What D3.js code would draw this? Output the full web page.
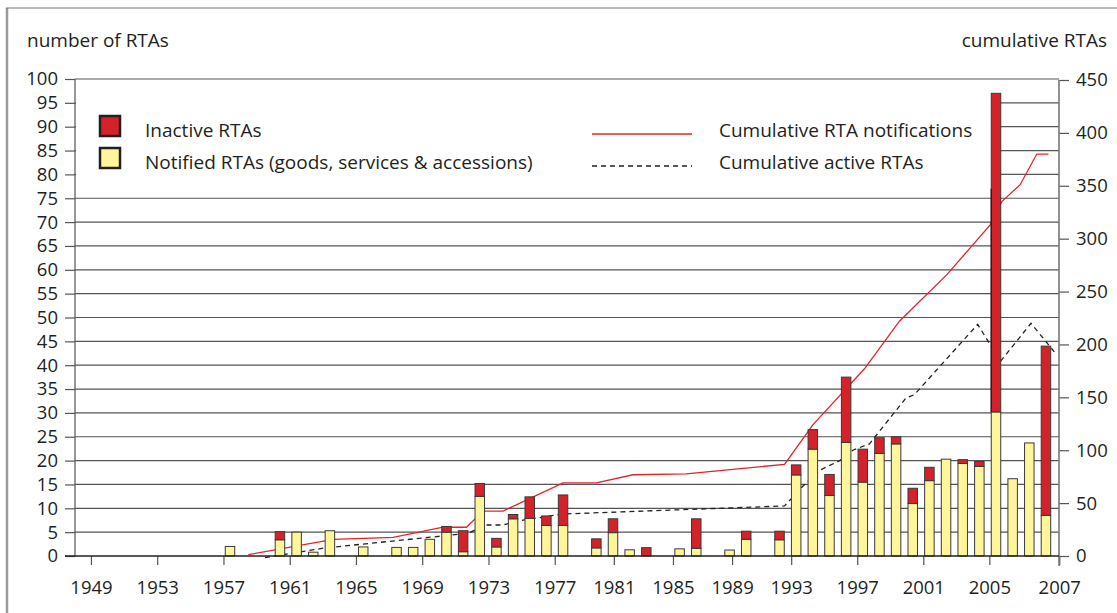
<!DOCTYPE html>
<html>
<head>
<meta charset="utf-8">
<script src="https://cdn.jsdelivr.net/npm/d3@7"></script>
<style>
  body { margin: 0; background: #fff; }
  svg { display: block; font-family: 'Open Sans', sans-serif; }
</style>
</head>
<body>
<svg id="chart" width="1117" height="613"></svg>
<script>
// bar data: year, notified (yellow, bottom) and inactive (red, stacked on top)
const years    = [1958, 1961, 1962, 1963, 1964, 1966, 1968, 1969, 1970, 1971, 1972, 1973, 1974, 1975, 1976, 1977, 1978,
                  1980, 1981, 1982, 1983, 1985, 1986, 1988, 1989, 1991, 1992, 1993, 1994, 1995, 1996, 1997, 1998,
                  1999, 2000, 2001, 2002, 2003, 2004, 2005, 2006, 2007];
const notified = [2.0, 3.4, 5.0, 0.8, 5.3, 1.9, 1.8, 1.8, 3.5, 5.0, 0.9, 12.5, 1.9, 7.8, 7.9, 6.4, 6.4,
                  1.7, 4.9, 1.3, 0, 1.5, 1.6, 1.25, 3.5, 3.4, 17.0, 22.4, 12.7, 23.8, 15.5, 21.5, 23.5,
                  11.0, 15.8, 20.3, 19.4, 18.8, 30.2, 16.2, 23.7, 8.5];
const inactive = [0, 1.7, 0, 0, 0, 0, 0, 0, 0, 1.2, 4.4, 2.7, 1.8, 0.9, 4.5, 2.0, 6.4,
                  1.9, 2.9, 0, 1.75, 0, 6.2, 0, 1.7, 1.8, 2.1, 4.1, 4.4, 13.7, 6.9, 3.3, 1.5,
                  3.2, 2.8, 0, 0.8, 1.0, 66.8, 0, 0, 35.5];

// stray outline inside the 2004 bar
const ghostOutline = { year: 2004, value: 77 };

// cumulative RTA notifications (right axis)
const notifYears  = [1959.1, 1964.2, 1967.8, 1970.8, 1972.2, 1973.2, 1974.4, 1978.0, 1980.0, 1982.2, 1985.4,
                     1991.3, 1993.0, 1996.1, 1998.2, 2001.05, 2003.65, 2004.35, 2005.45, 2006.45, 2007.15];
const notifValues = [1.2, 15.8, 17.7, 27.2, 27.2, 42.5, 42.5, 69.2, 69.2, 76.8, 77.7,
                     86.7, 124, 177, 222, 266, 313, 335, 351, 380, 380];

// cumulative active RTAs (right axis)
const activeYears  = [1960.1, 1963.7, 1972.3, 1973.3, 1974.4, 1975.6, 1978.0, 1991.3, 1992.4, 1993.4, 1994.6,
                      1995.4, 1996.4, 1998.6, 1999.1, 2002.9, 2004.27, 2006.1, 2007.5];
const activeValues = [-1.5, 7.6, 21.4, 29.3, 29.3, 34, 39.7, 47.3, 66, 81, 90,
                      100, 106, 149.5, 152.5, 219, 184, 220, 193];

const leftTicks  = [0, 5, 10, 15, 20, 25, 30, 35, 40, 45, 50, 55, 60, 65, 70, 75, 80, 85, 90, 95, 100];
const rightTicks = [0, 50, 100, 150, 200, 250, 300, 350, 400, 450];
const xTickLabels = [1949, 1953, 1957, 1961, 1965, 1969, 1973, 1977, 1981, 1985, 1989, 1993, 1997, 2001, 2005, 2007];

const svg = d3.select('#chart');
const ink = '#231f20';
const textSize = 19, tickSize = 18.5;

// frame
svg.append('line').attr('x1', 7).attr('x2', 7).attr('y1', 8).attr('y2', 613)
  .attr('stroke', '#9a9a9a').attr('stroke-width', 2.5);
svg.append('line').attr('x1', 6).attr('x2', 1117).attr('y1', 8).attr('y2', 8)
  .attr('stroke', '#777').attr('stroke-width', 1);

// scales
const left = 75, right = 1059, bottom = 556;
const x = d3.scaleLinear().domain([1958, 2004]).range([230, 996]);
const yL = d3.scaleLinear().domain([0, 100]).range([bottom, 79]);
const yR = d3.scaleLinear().domain([0, 450]).range([bottom, 80]);
// printed year labels sit off the bar positions; map them through a polylinear scale
const xLabel = d3.scaleLinear()
  .domain([1949, 1977, 1993, 2005, 2007])
  .range([1949.65, 1977.5, 1991.7, 2003.6, 2007.8].map(x));

const bw = (x(1959) - x(1958)) * 0.57;

// gridlines
svg.append('g').selectAll('line')
  .data(leftTicks.filter(d => d > 0))
  .enter().append('line')
  .attr('x1', left).attr('x2', right)
  .attr('y1', d => yL(d)).attr('y2', d => yL(d))
  .attr('stroke', '#555').attr('stroke-width', 1.2);

// white legend panel hides the upper gridlines up to the tallest bar
svg.append('rect')
  .attr('x', left + 1).attr('y', yL(98))
  .attr('width', x(2004) - bw / 2 - left - 1)
  .attr('height', yL(76.5) - yL(98))
  .attr('fill', '#fff');

// cumulative lines (behind bars)
const line = d3.line().x(d => x(d[0])).y(d => yR(d[1]));
svg.append('path')
  .datum(d3.zip(notifYears, notifValues))
  .attr('d', line).attr('fill', 'none')
  .attr('stroke', '#e0242c').attr('stroke-width', 1.3);
svg.append('path')
  .datum(d3.zip(activeYears, activeValues))
  .attr('d', line).attr('fill', 'none')
  .attr('stroke', '#222').attr('stroke-width', 1.3)
  .attr('stroke-dasharray', '5,4');

// bars
const bars = svg.append('g').selectAll('g')
  .data(years.map((y, i) => ({ year: y, n: notified[i], r: inactive[i] })))
  .enter().append('g');

bars.filter(d => d.n > 0).append('rect')
  .attr('x', d => x(d.year) - bw / 2)
  .attr('y', d => yL(d.n))
  .attr('width', bw)
  .attr('height', d => bottom - yL(d.n))
  .attr('fill', '#fff59a').attr('stroke', '#3a3a3a').attr('stroke-width', 1);

bars.filter(d => d.r > 0).append('rect')
  .attr('x', d => x(d.year) - bw / 2)
  .attr('y', d => yL(d.n + d.r))
  .attr('width', bw)
  .attr('height', d => yL(d.n) - yL(d.n + d.r))
  .attr('fill', '#d3222a').attr('stroke', '#3a3a3a').attr('stroke-width', 1);

const ghost = years.indexOf(ghostOutline.year);
svg.append('line')
  .attr('x1', x(ghostOutline.year) - bw / 2).attr('x2', x(ghostOutline.year) - bw / 2)
  .attr('y1', yL(ghostOutline.value)).attr('y2', yL(notified[ghost]))
  .attr('stroke', '#222').attr('stroke-width', 1.4);

// axes
function styleAxis(g) {
  g.select('.domain').remove();
  g.selectAll('.tick line').attr('stroke', '#555').attr('stroke-width', 1.2);
  g.selectAll('.tick text').attr('fill', ink).attr('font-size', tickSize)
    .attr('font-family', "'Open Sans', sans-serif");
}

svg.append('g')
  .attr('transform', `translate(${left},0)`)
  .call(d3.axisLeft(yL).tickValues(leftTicks).tickSize(10).tickPadding(7))
  .call(styleAxis);

svg.append('g')
  .attr('transform', `translate(${right},0)`)
  .call(d3.axisRight(yR).tickValues(rightTicks).tickSize(10).tickPadding(7))
  .call(styleAxis);

svg.append('g')
  .attr('transform', `translate(0,${bottom})`)
  .call(d3.axisBottom(xLabel).tickValues(xTickLabels).tickFormat(d3.format('d')).tickSize(9).tickPadding(16))
  .call(styleAxis);

// axis lines
svg.append('line').attr('x1', left).attr('x2', left).attr('y1', yL(100)).attr('y2', bottom)
  .attr('stroke', '#555').attr('stroke-width', 1.2);
svg.append('line').attr('x1', right).attr('x2', right).attr('y1', yR(450)).attr('y2', bottom + 10)
  .attr('stroke', '#777').attr('stroke-width', 1.6);
svg.append('line').attr('x1', left - 10).attr('x2', right).attr('y1', bottom).attr('y2', bottom)
  .attr('stroke', ink).attr('stroke-width', 1.4);

// axis titles
svg.append('text').attr('x', 27).attr('y', 47).attr('font-size', textSize).attr('fill', ink)
  .text('number of RTAs');
svg.append('text').attr('x', 1107).attr('y', 47).attr('font-size', textSize).attr('fill', ink)
  .attr('text-anchor', 'end').text('cumulative RTAs');

// legend
const legend = svg.append('g').attr('font-size', textSize).attr('fill', ink);
legend.append('rect').attr('x', 100).attr('y', 116).attr('width', 20).attr('height', 20)
  .attr('fill', '#d3222a').attr('stroke', ink).attr('stroke-width', 2.5);
legend.append('rect').attr('x', 100).attr('y', 148).attr('width', 20).attr('height', 20)
  .attr('fill', '#fff59a').attr('stroke', ink).attr('stroke-width', 2.5);
legend.append('text').attr('x', 145).attr('y', 137).text('Inactive RTAs');
legend.append('text').attr('x', 145).attr('y', 169).text('Notified RTAs (goods, services & accessions)');
legend.append('line').attr('x1', 592).attr('x2', 692).attr('y1', 134).attr('y2', 134)
  .attr('stroke', '#e0242c').attr('stroke-width', 1.3);
legend.append('line').attr('x1', 592).attr('x2', 692).attr('y1', 166).attr('y2', 166)
  .attr('stroke', '#222').attr('stroke-width', 1.3).attr('stroke-dasharray', '5,4');
legend.append('text').attr('x', 719).attr('y', 137).text('Cumulative RTA notifications');
legend.append('text').attr('x', 719).attr('y', 169).text('Cumulative active RTAs');
</script>
</body>
</html>
